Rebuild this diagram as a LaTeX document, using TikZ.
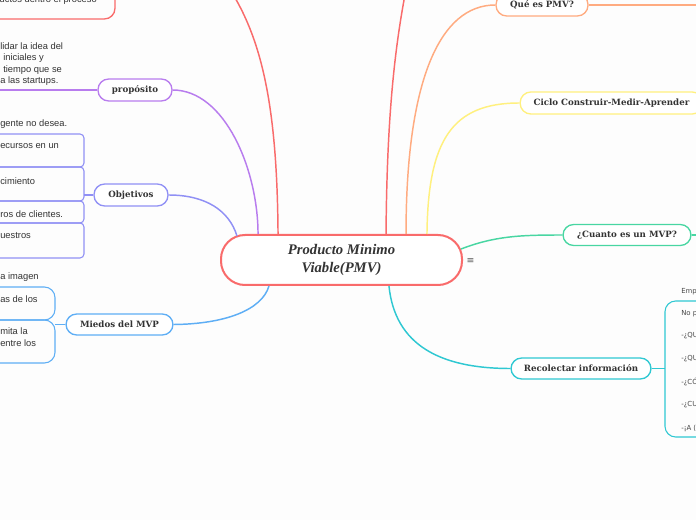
\documentclass[tikz,border=0pt]{standalone}
\usepackage{fontspec}
\newfontfamily\nodefont{DejaVu Serif}
\newfontfamily\cenfont{Liberation Serif}
\newfontfamily\hand{Liberation Sans}
\newfontfamily\djs{DejaVu Sans}
\definecolor{bg}{HTML}{FDFDFD}
\definecolor{txt}{HTML}{333333}
\definecolor{cRed}{HTML}{F96B6B}
\definecolor{cPurple}{HTML}{B87CEE}
\definecolor{cViolet}{HTML}{9090F5}
\definecolor{cBlue}{HTML}{5EAEF5}
\definecolor{cOrange}{HTML}{FFAB80}
\definecolor{cYellow}{HTML}{FFF07E}
\definecolor{cGreen}{HTML}{48D6A2}
\definecolor{cTeal}{HTML}{2FC8D2}
\begin{document}
\begin{tikzpicture}[x=0.75pt,y=-0.75pt,
  box/.style={draw, fill=white, rounded corners=8pt, line width=1pt,
    minimum height=16.5pt, inner sep=0pt, text=txt,
    font=\nodefont\bfseries\fontsize{6.5}{7.5}\selectfont},
  link/.style={line width=1.1pt},
  brk/.style={line width=0.8pt},
  leaf/.style={anchor=west, inner sep=0pt, text=txt,
    font=\hand\fontsize{7}{8}\selectfont},
  leafr/.style={anchor=west, inner sep=0pt, text=txt!90,
    font=\djs\fontsize{5.2}{6}\selectfont}]
\fill[bg] (0,0) rectangle (696,520);
\useasboundingbox (0,0) rectangle (696,520);
\clip (0,0) rectangle (696,520);

% nodes
\node[box, draw=cRed, line width=1.5pt, rounded corners=18pt,
  minimum width=180.75pt, minimum height=37.5pt, align=center,
  font=\cenfont\bfseries\itshape\fontsize{11}{14}\selectfont] (c) at (341.5,260) {Producto Minimo\\Viable(PMV)};
\node[text=txt!80, inner sep=0pt, font=\djs\fontsize{7}{8}\selectfont] (menu) at (470.5,260.5) {≡};
\node[box, draw=cPurple, minimum width=55.5pt] (prop) at (135,90) {propósito};
\node[box, draw=cViolet, minimum width=55.5pt] (obj) at (131,195) {Objetivos};
\node[box, draw=cBlue, minimum width=80.25pt, minimum height=15.75pt] (mie) at (119.5,324.5) {Miedos del MVP};
\node[box, draw=cOrange, minimum width=69pt] (qe) at (542,5) {Qué es PMV?};
\node[box, draw=cYellow, minimum width=137pt] (ciclo) at (611.5,103) {Ciclo Construir-Medir-Aprender};
\node[box, draw=cGreen, minimum width=96pt, minimum height=15.75pt] (cu) at (627,235) {¿Cuanto es un MVP?};
\node[box, draw=cTeal, minimum width=105pt, minimum height=15.75pt] (rec) at (581,368.5) {Recolectar información};

% free ends
\coordinate (redA) at (212,-35);
\coordinate (redB) at (411,-35);
\coordinate (qeR) at (700,5);
\coordinate (cuR) at (700,235);
\coordinate (propL) at (-5,90);
\coordinate (objB) at (84,195);
\coordinate (mieB) at (55,324.5);
\coordinate (recB) at (665,368.5);

% connectors
\draw[link, cRed] ([xshift=-47.6pt]c.north) .. controls (277,90) and (258,20) .. (redA);
\draw[link, cRed] ([xshift=33.4pt]c.north) .. controls (387,100) and (397,30) .. (redB);
\draw[link, cOrange] ([xshift=48.4pt]c.north) .. controls (406,80) and (440,5) .. (qe.west);
\draw[link, cYellow] ([xshift=64.1pt]c.north) .. controls (428,140) and (452,103) .. (ciclo.west);
\draw[link, cPurple] ([xshift=-62.6pt]c.north) .. controls (258,170) and (225,90) .. (prop.east);
\draw[link, cViolet] (obj.east) .. controls (205,195) and (229,210) .. ([xshift=12.75pt,yshift=18pt]c.west);
\draw[link, cBlue] (mie.east) .. controls (225,324) and (262,310) .. ([xshift=-54.4pt]c.south);
\draw[link, cTeal] ([xshift=35.6pt]c.south) .. controls (395,345) and (440,368.5) .. (rec.west);
\draw[link, cGreen] ([xshift=-1.5pt,yshift=8.25pt]c.east) .. controls (495,236) and (520,235) .. (cu.west);
\draw[link, cOrange] (qe.east) -- (qeR);
\draw[link, cGreen] (cu.east) -- (cuR);
\draw[brk, cPurple] (prop.west) -- (propL);
\draw[brk, cViolet] (obj.west) -- (objB);
\draw[brk, cBlue] (mie.west) -- (mieB);
\draw[brk, cTeal] (rec.east) -- (recB);

% brackets / partial boxes
\draw[line width=1pt, cRed, rounded corners=8pt] (-20,-40) rectangle (115,19);
\draw[brk, cViolet, rounded corners=3pt] (-20,134) rectangle (84,167);
\draw[brk, cViolet, rounded corners=3pt] (-20,167) rectangle (84,201);
\draw[brk, cViolet, rounded corners=3pt] (-20,201) rectangle (84,223);
\draw[brk, cViolet, rounded corners=3pt] (-20,223) rectangle (84,258);
\draw[brk, cBlue, rounded corners=8pt] (-20,287) rectangle (55,320);
\draw[brk, cBlue, rounded corners=8pt] (-20,320) rectangle (55,363);
\draw[brk, cTeal, rounded corners=8pt] (665,301) rectangle (730,437);

% leaf texts
\node[leaf, anchor=east] (t0) at (97,0) {ductos dentro el proceso};
\node[leaf] (p1) at (0,46) {lidar la idea del};
\node[leaf] (p2) at (3,58) {iniciales y};
\node[leaf] (p3) at (3,70) {tiempo que se};
\node[leaf] (p4) at (0,81) {a las startups.};
\node[leaf] (o0) at (0,124.5) {gente no desea.};
\node[leaf] (o1) at (0,146) {ecursos en un};
\node[leaf] (o2) at (0,181) {cimiento};
\node[leaf] (o3) at (0,214) {ros de clientes.};
\node[leaf] (o4) at (0,236) {uestros};
\node[leaf] (m1) at (0,277) {a imagen};
\node[leaf] (m2) at (0,299) {as de los};
\node[leaf] (m3) at (0,331) {mita la};
\node[leaf] (m4) at (0,343) {entre los};
\node[leafr] (r1) at (681,292) {Emp};
\node[leafr] (r2) at (681,313.5) {No p};
\node[leafr] (r3) at (681,336) {-¿QU};
\node[leafr] (r4) at (681,359) {-¿QU};
\node[leafr] (r5) at (681,382) {-¿CÓ};
\node[leafr] (r6) at (681,405) {-¿CU};
\node[leafr] (r7) at (681,428) {-¡A (};
\end{tikzpicture}
\end{document}
